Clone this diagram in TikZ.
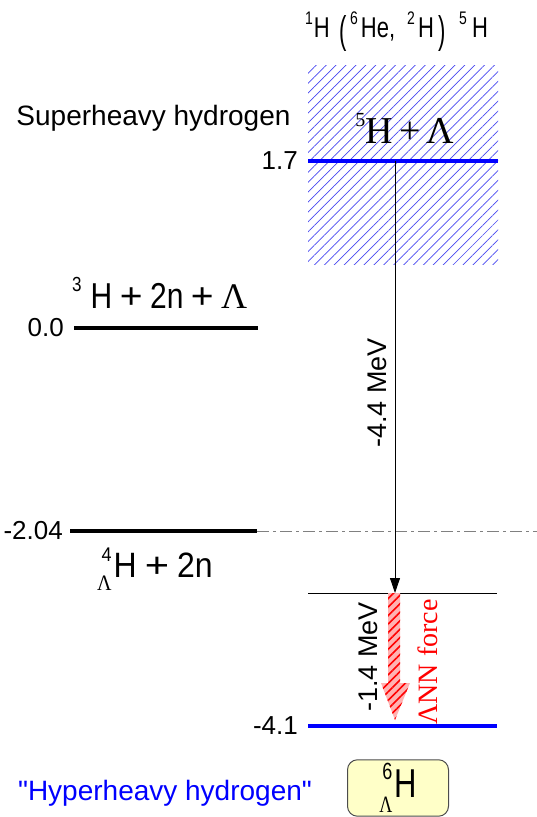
\documentclass[tikz,border=0pt]{standalone}
\usepackage{fontspec}
\setmainfont{Liberation Sans}
\newfontfamily\timesfont{Liberation Serif}
\newfontfamily\rawsans{Liberation Sans}[Ligatures=TeXOff]
\usepackage{graphicx}
\usepackage{xcolor}
\definecolor{paleyellow}{HTML}{FFFFC8}
\definecolor{hatchblue}{HTML}{4848F0}
\usetikzlibrary{arrows.meta,positioning,patterns.meta}
\newcommand{\Lam}{{\timesfont Λ}}
\newcommand{\fs}[1]{\fontsize{#1}{#1}\selectfont}
\newcommand{\sups}[2]{\raisebox{0.45em}{\fs{#1}#2}}
\newcommand{\hypnuc}[3]{\raisebox{-0.38em}{\fs{#2}\Lam}\llap{\raisebox{0.45em}{\fs{#1}#3}}\hspace{2pt}H}
\newcommand{\pl}{\hspace{0.25em}\scalebox{1.3}[1]{+}\hspace{0.25em}}
\newcommand{\lpar}{\raisebox{-5pt}{\scalebox{1}[1.35]{(}}}
\newcommand{\rpar}{\raisebox{-5pt}{\scalebox{1}[1.35]{)}}}

\begin{document}
\begin{tikzpicture}[x=1pt,y=-1pt,
  num/.style={font=\fs{26},inner sep=0pt},
  lvl/.style={line width=4pt},
  thinlvl/.style={line width=0.9pt},
  arr/.style={-{Triangle[length=15pt,width=10pt]},line width=0.8pt},
  vlbl/.style={font=\fs{27},rotate=90,inner sep=0pt},
  formula/.style={font=\fs{30},inner sep=0pt,anchor=base west}]
\useasboundingbox (0,0) rectangle (537,817);
\fill[pattern={Lines[angle=45,distance=7pt,line width=0.7pt]},pattern color=hatchblue] (308,65) rectangle (498,264);
\node[font=\fs{22},inner sep=0pt,anchor=base west] (reac) at (305,37) {\scalebox{1}[1.3]{\sups{14}{1}\hspace{1pt}H\hspace{10pt}\lpar\hspace{3pt}\sups{14}{6}\hspace{3pt}He,\hspace{12pt}\sups{14}{2}\hspace{3pt}H\hspace{5pt}\rpar\hspace{13pt}\sups{14}{5}\hspace{5pt}H}};
\node[font=\fs{28},anchor=east] (shh) at (294,118) {Superheavy hydrogen};
\node[font=\timesfont\fs{38},inner sep=0pt] (h5) at (405,128) {\sups{20}{5}H\,+\,Λ};
\coordinate (a1) at (308,161); \coordinate (a2) at (498,161);
\draw[lvl,blue] (a1) -- (a2);
\node[num,left=10pt of a1] (e1) {1.7};
\node[formula] (h3) at (72,308) {\scalebox{1}[1.2]{\sups{17}{3}\hspace{9pt}H\pl 2n\pl\scalebox{1.2}[1]{\Lam}}};
\coordinate (b1) at (74,328); \coordinate (b2) at (258,328);
\draw[lvl] (b1) -- (b2);
\node[num,left=10pt of b1] (e2) {0.0};
\coordinate (c1) at (70,531); \coordinate (c2) at (257,531); \coordinate (c3) at (537,531);
\draw[lvl] (c1) -- (c2);
\draw[gray,line width=1pt,dash pattern=on 12pt off 4pt on 3pt off 4pt] (c2) -- (c3);
\node[num,left=7pt of c1] (e3) {-2.04};
\node[formula,font=\fs{32}] (h4) at (97,577) {\scalebox{1}[1.1]{\hypnuc{18}{20}{4}\pl 2n}};
\coordinate (d1) at (308,593); \coordinate (d2) at (497,593);
\draw[thinlvl] (d1) -- (d2);
\coordinate (g1) at (308,726); \coordinate (g2) at (497,726);
\draw[lvl,blue] (g1) -- (g2);
\node[num,left=10pt of g1] (e4) {-4.1};
\coordinate (src) at (395,161); \coordinate (dst) at (395,593);
\draw[arr] (src) -- (dst);
\node[vlbl] (gap1) at (377,393) {-4.4 MeV};
\fill[red!30] (388,593) -- (400,593) -- (400,683) -- (410,683) -- (395,720) -- (381,683) -- (388,683) -- cycle;
\fill[pattern={Lines[angle=45,distance=6pt,line width=1.6pt]},pattern color=red] (388,593) -- (400,593) -- (400,683) -- (410,683) -- (395,720) -- (381,683) -- (388,683) -- cycle;
\node[vlbl] (gap2) at (368,657) {-1.4 MeV};
\node[rotate=90,font=\timesfont\fs{28},text=red,inner sep=0pt] (lnn) at (428,662) {ΛNN force};
\node[font=\fs{28},text=blue] (hhh) at (165,793) {{\rawsans"}Hyperheavy hydrogen{\rawsans"}};
\node[draw=gray!60!black,fill=paleyellow,rounded corners=10pt,minimum width=101pt,minimum height=54pt,font=\fs{31},line width=1pt] (h6) at (398,788) {\scalebox{1}[1.3]{\hypnuc{18}{18}{6}}};
\end{tikzpicture}
\end{document}
